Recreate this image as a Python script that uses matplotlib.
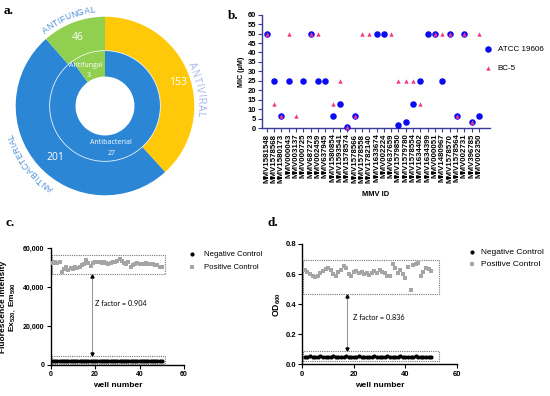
import numpy as np
import matplotlib
matplotlib.use("Agg")
import matplotlib.pyplot as plt
from matplotlib.patches import Circle, Rectangle
from matplotlib.textpath import TextToPath
from matplotlib.font_manager import FontProperties

plt.rcParams['font.family'] = ['Liberation Sans', 'DejaVu Sans']
plt.rcParams['mathtext.fontset'] = 'custom'
plt.rcParams['mathtext.rm'] = 'Liberation Sans'
plt.rcParams['mathtext.bf'] = 'Liberation Sans:bold'
plt.rcParams['mathtext.default'] = 'bf'

# ---- panel a: compound classes (outer) and hits (inner)
outer_labels = ['ANTIVIRAL', 'ANTIBACTERIAL', 'ANTIFUNGAL']
outer_counts = [153, 201, 46]
inner_labels = ['Antibacterial', 'Antifungal']
inner_counts = [27, 3]

# ---- panel b: MIC values (uM)
mmv_ids = ['MMV1581548', 'MMV1578568', 'MMV1580173', 'MMV000043', 'MMV003137',
           'MMV000725', 'MMV687273', 'MMV002459', 'MMV637945', 'MMV1580854',
           'MMV1593541', 'MMV1578574', 'MMV1578566', 'MMV1578558', 'MMV1782140',
           'MMV1633674', 'MMV002224', 'MMV637659', 'MMV1579850', 'MMV1579780',
           'MMV1578554', 'MMV1634402', 'MMV1634399', 'MMV000051', 'MMV1480967',
           'MMV1578570', 'MMV1578564', 'MMV002731', 'MMV396785', 'MMV002350']
nan = np.nan
mic_atcc = [50, 25, 6.25, 25, nan, 25, 50, 25, 25, 6.25,
            12.5, 0.78, 6.25, nan, nan, 50, 50, nan, 1.56, 3.125,
            12.5, 25, 50, 50, 25, 50, 6.25, 50, 3.125, 6.25]
mic_bc5 = [50, 12.5, 6.25, 50, 6.25, nan, 50, 50, nan, 12.5,
           25, 0.78, 6.25, 50, 50, nan, nan, 50, 25, 25,
           25, 12.5, nan, 50, 50, 50, 6.25, 50, 3.125, 50]

# ---- panel c: fluorescence, 50 wells
wells = np.arange(1, 51)
fl_pos = [52600, 52900, 52500, 52800, 47800, 49500, 50200, 48800, 49800, 49200,
          50600, 49600, 50400, 51200, 52000, 53800, 52400, 51000, 52600, 53000,
          52700, 52900, 52500, 52800, 52300, 51800, 52600, 53000, 52700, 53400,
          54400, 53200, 52600, 52000, 53000, 50400, 51200, 51900, 52400, 52100,
          51800, 52000, 52200, 52000, 51900, 52100, 51600, 51300, 50600, 50200]
fl_neg = [1800, 1850, 1750, 1800, 1820, 1780, 1800, 1760, 1840, 1800,
          1810, 1790, 1800, 1830, 1770, 1800, 1820, 1800, 1780, 1800,
          1790, 1810, 1800, 1820, 1780, 1800, 1800, 1830, 1790, 1800,
          1810, 1800, 1780, 1820, 1800, 1790, 1800, 1810, 1800, 1780,
          1820, 1800, 1790, 1800, 1830, 1800, 1780, 1800, 1810, 1800]

# ---- panel d: OD600, 50 wells
od_pos = [0.627, 0.616, 0.600, 0.587, 0.578, 0.590, 0.610, 0.623, 0.632, 0.638,
          0.627, 0.600, 0.587, 0.616, 0.627, 0.656, 0.638, 0.600, 0.587, 0.616,
          0.623, 0.610, 0.616, 0.600, 0.610, 0.594, 0.605, 0.623, 0.610, 0.627,
          0.616, 0.610, 0.587, 0.587, 0.665, 0.638, 0.610, 0.627, 0.600, 0.576,
          0.645, 0.494, 0.660, 0.665, 0.671, 0.587, 0.616, 0.638, 0.632, 0.623]
od_neg = [0.051, 0.050, 0.052, 0.051, 0.050, 0.051, 0.052, 0.050, 0.051, 0.051,
          0.050, 0.052, 0.051, 0.050, 0.051, 0.051, 0.052, 0.050, 0.051, 0.050,
          0.051, 0.052, 0.051, 0.050, 0.051, 0.051, 0.050, 0.052, 0.051, 0.050,
          0.051, 0.051, 0.052, 0.050, 0.051, 0.050, 0.051, 0.052, 0.051, 0.050,
          0.051, 0.051, 0.050, 0.052, 0.051, 0.050, 0.051, 0.051, 0.050, 0.051]

BLUE = '#2B86D6'
YELLOW = '#FFC90A'
GREEN = '#91CF50'

fig = plt.figure(figsize=(5.5, 3.96), dpi=100)

# ================= panel a =================
ax_a = fig.add_axes([5 / 550, 1 - 206 / 396, 200 / 550, 200 / 396])
ax_a.pie(outer_counts, radius=1.0, startangle=90, counterclock=False,
         colors=[YELLOW, BLUE, GREEN], wedgeprops=dict(width=0.38, edgecolor='none'))
ax_a.pie(inner_counts, radius=0.62, startangle=90, counterclock=False,
         colors=[BLUE, GREEN], wedgeprops=dict(width=0.29, edgecolor='none'))
ax_a.add_patch(Circle((0, 0), 0.62, fill=False, ec='white', lw=0.6, alpha=0.8))
ax_a.set_xlim(-1.12, 1.12)
ax_a.set_ylim(-1.12, 1.12)
ax_a.set_aspect('equal')
ax_a.set_axis_off()

lab_font = ['Open Sans', 'DejaVu Sans']
ax_a.text(-0.30, 0.77, str(outer_counts[2]), color='white', fontsize=7.5, ha='center', va='center', family=lab_font)
ax_a.text(0.82, 0.26, str(outer_counts[0]), color='white', fontsize=7.5, ha='center', va='center', family=lab_font)
ax_a.text(-0.56, -0.58, str(outer_counts[1]), color='white', fontsize=7.5, ha='center', va='center', family=lab_font)
ax_a.text(-0.21, 0.45, inner_labels[1], color='white', fontsize=5, ha='center', va='center', family=lab_font)
ax_a.text(-0.18, 0.34, str(inner_counts[1]), color='white', fontsize=5, ha='center', va='center', family=lab_font)
ax_a.text(0.07, -0.41, inner_labels[0], color='white', fontsize=5, ha='center', va='center', family=lab_font)
ax_a.text(0.07, -0.53, str(inner_counts[0]), color='white', fontsize=5, ha='center', va='center', family=lab_font)

ttp = TextToPath()
PPU = 200 / 2.24  # pixels per data unit in panel a


def arc_text(ax, s, r, center_deg, size, color, spacing=1.05):
    fp = FontProperties(family='Liberation Sans', size=size)

    def wpx(t):
        if not t:
            return 0.0
        return ttp.get_text_width_height_descent(t.replace(' ', '_'), fp, ismath=False)[0] * 100 / 72

    # centres of characters along the string, from prefix widths
    edges = [wpx(s[:k]) * spacing for k in range(len(s) + 1)]
    total = edges[-1] / (r * PPU)
    start = np.deg2rad(center_deg) + total / 2
    for k, ch in enumerate(s):
        mid = (edges[k] + edges[k + 1]) / 2
        ang = start - mid / (r * PPU)
        ax.text(r * np.cos(ang), r * np.sin(ang), ch, fontsize=size, color=color,
                rotation=np.rad2deg(ang) - 90, rotation_mode='anchor',
                ha='center', va='center', family='Liberation Sans', clip_on=False)


arc_text(ax_a, outer_labels[2], 1.08, 113, 6.2, '#4A8ED8')
arc_text(ax_a, outer_labels[0], 1.07, 10, 7, '#A9B6EA', spacing=1.12)
arc_text(ax_a, outer_labels[1], 1.10, 217, 6.2, '#4A8ED8')

# ================= panel b =================
NAVY = '#3A3A9A'
ax_b = fig.add_axes([261.7 / 550, 1 - 128 / 396, (490 - 261.7) / 550, (128 - 14.7) / 396])
xb = np.arange(len(mmv_ids))
ax_b.scatter(xb, mic_atcc, s=22, color='#0B0BF2', zorder=3, clip_on=False,
             label='ATCC 19606', linewidths=0)
ax_b.scatter(xb, mic_bc5, marker='^', s=10, color='#F0388C', zorder=4, clip_on=False,
             label='BC-5', linewidths=0)
ax_b.set_xlim(-0.68, 30.5)
ax_b.set_ylim(0, 60)
ax_b.set_yticks(np.arange(0, 61, 5))
ax_b.set_xticks(xb)
ax_b.set_xticklabels(mmv_ids, rotation=90, fontsize=5.7, fontweight='bold')
for t in ax_b.get_yticklabels():
    t.set_fontweight('bold')
    t.set_fontsize(5.4)
for sp in ['top', 'right']:
    ax_b.spines[sp].set_visible(False)
for sp in ['left', 'bottom']:
    ax_b.spines[sp].set_color(NAVY)
    ax_b.spines[sp].set_linewidth(1)
ax_b.tick_params(direction='out', length=3, width=0.8, color=NAVY, pad=1)
ax_b.set_ylabel('MIC (µM)', fontsize=5.2, fontweight='bold', labelpad=2)
ax_b.set_xlabel('MMV ID', fontsize=5.4, fontweight='bold', labelpad=6)
ax_b.legend(loc='upper left', bbox_to_anchor=(484 / 550, 1 - 45 / 396),
            bbox_transform=fig.transFigure, frameon=False, fontsize=5.8,
            handlelength=1, handletextpad=0.7, labelspacing=1.5,
            borderpad=0, borderaxespad=0, scatterpoints=1)


def style_ax(ax, size):
    for sp in ['top', 'right']:
        ax.spines[sp].set_visible(False)
    for sp in ['left', 'bottom']:
        ax.spines[sp].set_linewidth(1)
    ax.tick_params(direction='out', length=3, width=0.8, pad=1.5)
    for t in ax.get_xticklabels() + ax.get_yticklabels():
        t.set_fontweight('bold')
        t.set_fontsize(size)


def dotted_box(ax, x0, x1, y0, y1):
    ax.add_patch(Rectangle((x0, y0), x1 - x0, y1 - y0, fill=False, ls=(0, (1, 1)),
                           lw=0.8, ec='#777777', zorder=1, clip_on=False))


def z_arrow(ax, x, y_top, y_bot, ms):
    ax.plot([x, x], [y_top, y_bot], color='#9A9A9A', lw=0.8, zorder=2)
    ax.plot([x], [y_top], marker='^', ms=ms, color='black', zorder=3, clip_on=False)
    ax.plot([x], [y_bot], marker='v', ms=ms, color='black', zorder=3, clip_on=False)


# ================= panel c =================
ax_c = fig.add_axes([50.7 / 550, 1 - 364.7 / 396, (184 - 50.7) / 550, (364.7 - 248.3) / 396])
ax_c.scatter(wells, fl_neg, s=9, marker='o', color='black', zorder=4, clip_on=False,
             label='Negative Control', linewidths=0)
ax_c.scatter(wells, fl_pos, s=9, marker='s', color='#A5A5A5', zorder=4,
             label='Positive Control', linewidths=0)
ax_c.set_xlim(0, 60)
ax_c.set_ylim(0, 60000)
ax_c.set_xticks([0, 20, 40, 60])
ax_c.set_yticks([0, 20000, 40000, 60000])
ax_c.set_yticklabels(['0', '20,000', '40,000', '60,000'])
style_ax(ax_c, 5.0)
dotted_box(ax_c, 0.45, 51.3, 47000, 56500)
dotted_box(ax_c, 0.45, 51.3, 350, 4500)
z_arrow(ax_c, 18.5, 45800, 5600, 2.2)
ax_c.text(19.9, 31700, 'Z factor = 0.904', fontsize=5.2, family=['Lato', 'DejaVu Sans'], va='center')
ax_c.set_ylabel('Fluorescence Intensity\nEx$_{520,}$ Em$_{590}$', fontsize=6.0,
                fontweight='bold', linespacing=1.15)
ax_c.yaxis.set_label_coords(-0.245, 0.5)
ax_c.set_xlabel('well number', fontsize=6.0, fontweight='bold', labelpad=3)
ax_c.legend(loc='upper left', bbox_to_anchor=(188 / 550, 1 - 251 / 396),
            bbox_transform=fig.transFigure, frameon=False,
            fontsize=5.6, handlelength=1, handletextpad=1.0,
            labelspacing=0.6, borderpad=0, borderaxespad=0, scatterpoints=1)

# ================= panel d =================
ax_d = fig.add_axes([302.3 / 550, 1 - 364.3 / 396, (457 - 302.3) / 550, (364.3 - 244) / 396])
ax_d.scatter(wells, od_neg, s=9, marker='o', color='black', zorder=4,
             label='Negative Control', linewidths=0)
ax_d.scatter(wells, od_pos, s=9, marker='s', color='#A5A5A5', zorder=4,
             label='Positive Control', linewidths=0)
ax_d.set_xlim(0, 60)
ax_d.set_ylim(0, 0.8)
ax_d.set_xticks([0, 20, 40, 60])
ax_d.set_yticks([0.0, 0.2, 0.4, 0.6, 0.8])
ax_d.set_yticklabels(['0.0', '0.2', '0.4', '0.6', '0.8'])
style_ax(ax_d, 5.5)
dotted_box(ax_d, 0.4, 53, 0.469, 0.695)
dotted_box(ax_d, 0.4, 53, 0.020, 0.087)
z_arrow(ax_d, 17.5, 0.455, 0.105, 2.2)
ax_d.text(19.6, 0.309, 'Z factor = 0.836', fontsize=5.2, family=['Lato', 'DejaVu Sans'], va='center')
ax_d.set_ylabel('OD$_{600}$', fontsize=6.2, fontweight='bold', labelpad=2)
ax_d.set_xlabel('well number', fontsize=6, fontweight='bold', labelpad=3)
ax_d.legend(loc='upper left', bbox_to_anchor=(468 / 550, 1 - 248 / 396),
            bbox_transform=fig.transFigure, frameon=False, fontsize=6.0,
            handlelength=1, handletextpad=0.6, labelspacing=0.5,
            borderpad=0, borderaxespad=0, scatterpoints=1)

# panel letters
for lx, ly, s in [(4, 14, 'a.'), (228, 19, 'b.'), (5, 226, 'c.'), (268, 226, 'd.')]:
    fig.text(lx / 550, 1 - ly / 396, s, fontsize=9.5, fontweight='bold',
             family='Liberation Serif', va='baseline')

fig.savefig('out.png', dpi=100, facecolor='white')
